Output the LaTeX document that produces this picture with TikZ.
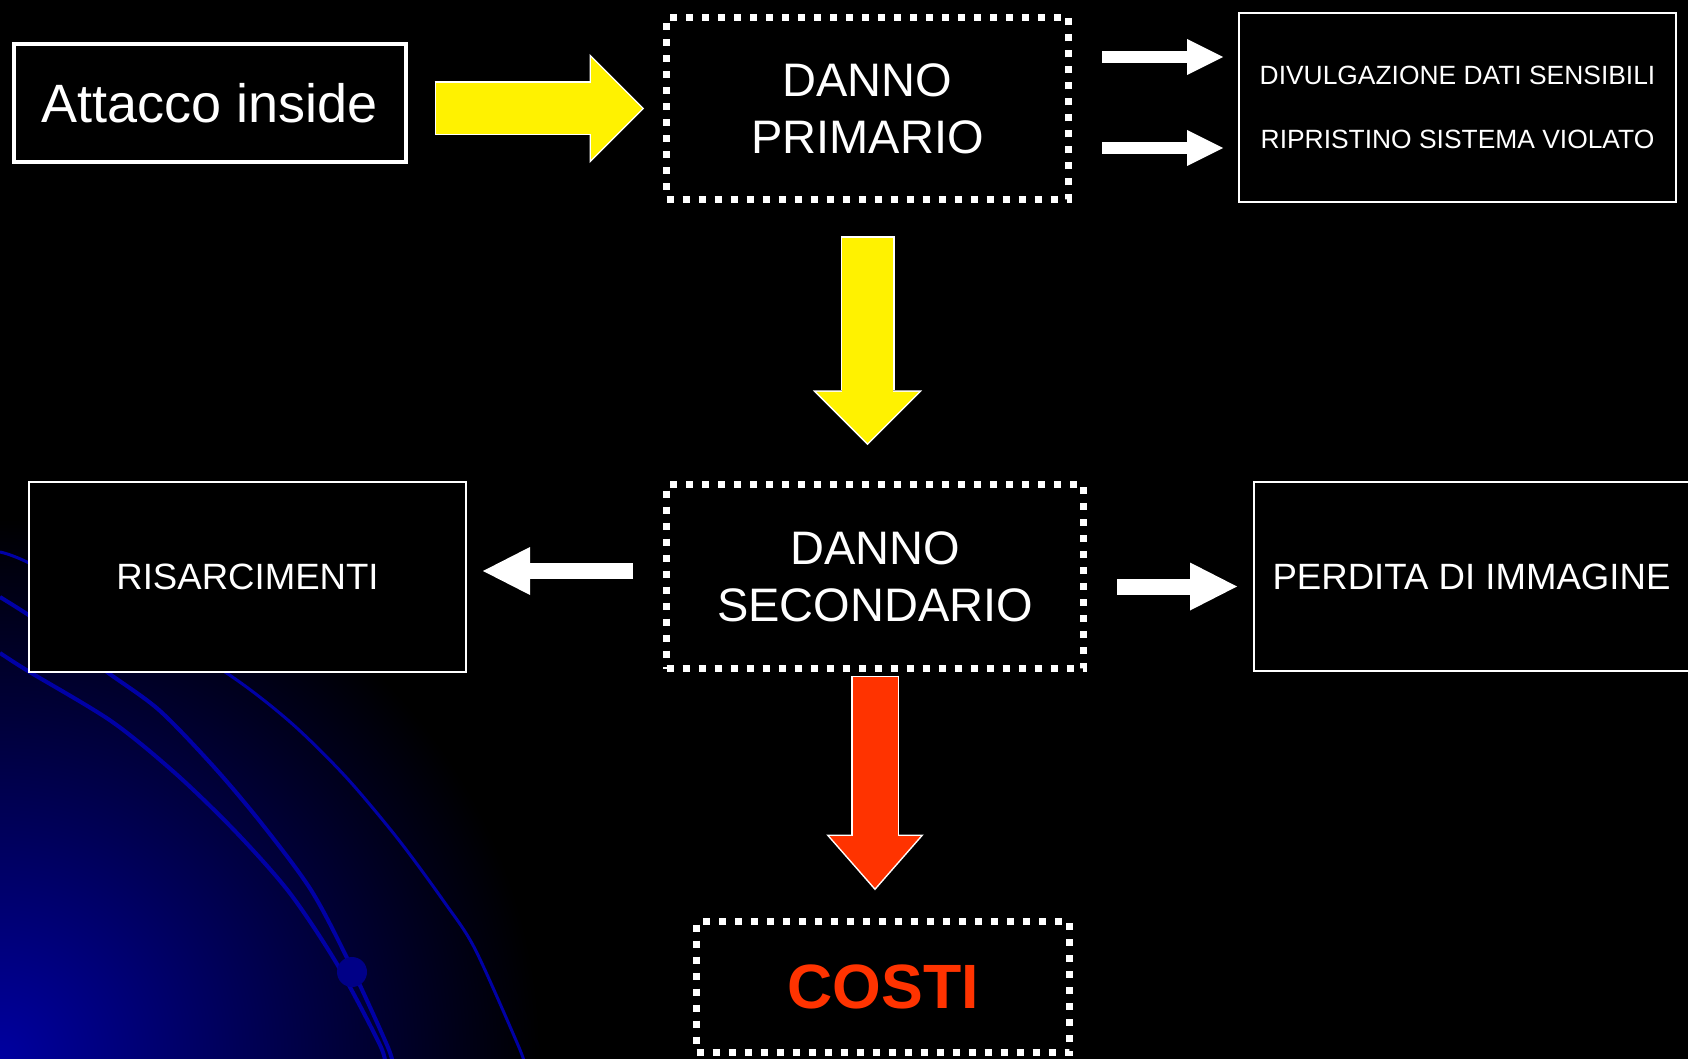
\documentclass[tikz,border=0pt]{standalone}
\usepackage{fontspec}
\setmainfont{Liberation Sans}
\usetikzlibrary{arrows.meta,calc,positioning}

\definecolor{costired}{RGB}{255,51,0}
\definecolor{orbitblue}{RGB}{0,0,165}
\definecolor{planetblue}{RGB}{0,0,160}
\definecolor{ballblue}{RGB}{0,0,135}
\pgfdeclareradialshading{cornerglow}{\pgfpoint{0bp}{0bp}}{color(0bp)=(planetblue); color(11bp)=(planetblue!55!black); color(25bp)=(black); color(50bp)=(black)}

\tikzset{
  plainbox/.style={draw=white, fill=black, line width=1pt, inner sep=0pt, text=white, align=center},
  dotbox/.style={plainbox, line width=3.5pt, dash pattern=on 3.5pt off 4.5pt},
  yellowarrow/.style={draw=yellow, line width=25.5pt,
    -{Triangle[length=25.5pt 0 0, width=51pt 0 0, line width=0pt 0 0]},
    preaction={draw=white, line width=27pt, shorten <=-0.75pt, shorten >=-1.05pt,
      -{Triangle[length=27.3pt 0 0, width=54.6pt 0 0, line width=0pt 0 0]}}},
  redarrow/.style={draw=costired, line width=22.5pt,
    -{Triangle[length=26pt 0 0, width=45.5pt 0 0, line width=0pt 0 0]},
    preaction={draw=white, line width=24pt, shorten <=-0.75pt, shorten >=-1.15pt,
      -{Triangle[length=27.9pt 0 0, width=48.8pt 0 0, line width=0pt 0 0]}}},
  whitearrow/.style={draw=white, line width=8pt,
    -{Triangle[length=23.5pt 0 0, width=24pt 0 0, line width=0pt 0 0]}},
  smallarrow/.style={draw=white, line width=6pt,
    -{Triangle[length=18pt 0 0, width=18pt 0 0, line width=0pt 0 0]}},
  orbit/.style={draw=orbitblue, line width=2pt}
}

\begin{document}
\begin{tikzpicture}[x=0.5pt, y=-0.5pt]
\useasboundingbox (0,0) rectangle (1688,1059);
\clip (0,0) rectangle (1688,1059);
\fill[black] (0,0) rectangle (1688,1059);
\shade[shading=cornerglow] (0,1059) circle (540);
\draw[orbit, line width=1.5pt] plot[smooth] coordinates {(0,552) (27,562) (120,610) (225,672) (289,721) (345,776) (398,839) (445,903) (475,949) (518,1045) (525,1065)};
\draw[orbit] plot[smooth] coordinates {(0,597) (27,614) (70,643) (107,672) (159,710) (214,767) (262,824) (311,890) (348,960) (387,1045) (393,1065)};
\draw[orbit] plot[smooth] coordinates {(0,653) (28,671) (111,721) (175,773) (234,830) (289,892) (337,964) (380,1045) (385,1065)};
\fill[ballblue] (352,972) circle (15);

\node[plainbox, line width=2.2pt, minimum width=195.8pt, minimum height=58.8pt, font=\fontsize{27pt}{32pt}\selectfont] (10) at (210,103) {Attacco inside};
\node[dotbox, minimum width=201pt, minimum height=91pt, font=\fontsize{23.5pt}{28.5pt}\selectfont] (11) at (867.5,108.5) {DANNO\\PRIMARIO};
\node[plainbox, minimum width=218.5pt, minimum height=94.5pt, font=\fontsize{13.2pt}{32pt}\selectfont] (13) at (1457.5,107.5) {DIVULGAZIONE DATI SENSIBILI\\RIPRISTINO SISTEMA VIOLATO};
\node[dotbox, minimum width=208.5pt, minimum height=92pt, font=\fontsize{23.5pt}{28.5pt}\selectfont] (12) at (875,576.5) {DANNO\\SECONDARIO};
\node[plainbox, minimum width=218.5pt, minimum height=95pt, font=\fontsize{18.3pt}{22pt}\selectfont] (14) at (247.5,577) {RISARCIMENTI};
\node[plainbox, minimum width=217.5pt, minimum height=94.5pt, font=\fontsize{18.3pt}{22pt}\selectfont] (15) at (1471.5,576.5) {PERDITA DI IMMAGINE};
\node[dotbox, minimum width=186.5pt, minimum height=65.5pt, text=costired, font=\bfseries\fontsize{31.3pt}{36pt}\selectfont] (16) at (883,987) {COSTI};

\draw[yellowarrow] ($(10.east |- 11.west)+(28,0)$) -- ($(11.west)+(-21,0)$);
\draw[yellowarrow] ($(11.south)+(0,35)$) -- ($(11.south |- 12.north)+(0,-38)$);
\draw[smallarrow] ($(11.east)+(30,-51.5)$) -- ($(13.west |- 11.east)+(-15,-51.5)$);
\draw[smallarrow] ($(11.east)+(30,39.5)$) -- ($(13.west |- 11.east)+(-15,39.5)$);
\draw[whitearrow] ($(12.west)+(-30,-5.5)$) -- ($(14.east |- 12.west)+(16,-5.5)$);
\draw[whitearrow] ($(12.east)+(30,10)$) -- ($(15.west |- 12.east)+(-16,10)$);
\draw[redarrow] ($(12.south)+(0,5)$) -- ($(12.south |- 16.north)+(0,-30)$);
\end{tikzpicture}
\end{document}
